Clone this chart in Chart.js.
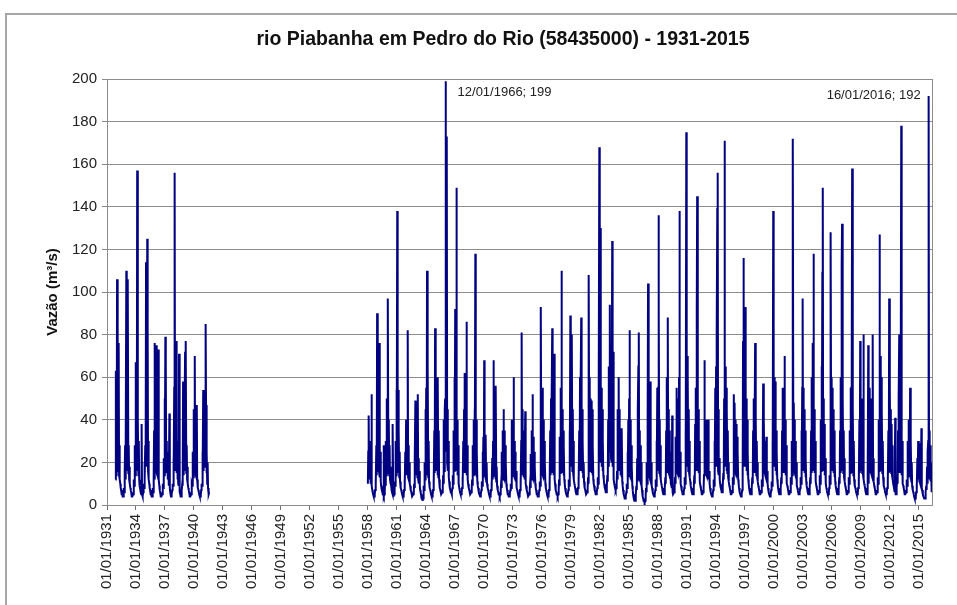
<!DOCTYPE html>
<html>
<head>
<meta charset="utf-8">
<script src="https://cdn.jsdelivr.net/npm/chart.js@4.4.1/dist/chart.umd.min.js"></script>
<style>
  html, body { margin: 0; padding: 0; background: #fff; }
  #wrap { position: relative; width: 957px; height: 605px; overflow: hidden; }
  #frame { position: absolute; left: 5px; top: 13px; right: -4px; bottom: -4px; border-top: 2px solid #a6a6a6; border-left: 2px solid #a6a6a6; }
  canvas { position: absolute; left: 0; top: 0; }
</style>
</head>
<body>
<div id="wrap"><div id="frame"></div><canvas id="chart" width="957" height="605"></canvas></div>
<script>
//  Daily flow, kept as two readings a month (1st and 16th), in m³/s.
//  Each row is one year; the first row of a block may start later in the year.
const tickYears = [1931, 1934, 1937, 1940, 1943, 1946, 1949, 1952, 1955, 1958, 1961, 1964, 1967, 1970,
	1973, 1976, 1979, 1982, 1985, 1988, 1991, 1994, 1997, 2000, 2003, 2006, 2009, 2012, 2015]

const flow1931_1941 = [
	[12, 63, 14],
	[20, 106, 18, 52, 16, 76, 14, 28, 12, 10, 8, 7, 6, 5, 5, 4, 4, 5, 8, 6, 16, 28, 12, 30],
	[110, 20, 74, 16, 106, 15, 28, 12, 18, 10, 8, 7, 6, 5, 4, 4, 4, 5, 7, 12, 9, 28, 14, 67],
	[18, 45, 20, 157, 16, 40, 14, 30, 12, 9, 8, 7, 6, 5, 38, 5, 4, 4, 6, 10, 8, 20, 12, 28],
	[22, 114, 18, 40, 125, 82, 16, 30, 12, 10, 8, 7, 6, 5, 5, 4, 4, 5, 8, 6, 14, 35, 12, 76],
	[18, 60, 16, 75, 15, 28, 20, 35, 73, 12, 9, 7, 6, 5, 4, 4, 4, 5, 7, 10, 8, 22, 14, 50],
	[16, 79, 66, 18, 30, 15, 25, 12, 20, 10, 9, 43, 8, 6, 5, 4, 4, 5, 7, 10, 9, 22, 15, 55],
	[156, 20, 45, 16, 77, 15, 30, 12, 18, 10, 9, 71, 8, 6, 5, 4, 4, 5, 7, 10, 9, 58, 14, 40],
	[18, 50, 72, 16, 77, 15, 28, 12, 18, 10, 8, 7, 6, 5, 4, 4, 4, 5, 7, 10, 9, 25, 13, 45],
	[16, 40, 70, 15, 35, 14, 28, 47, 12, 10, 8, 7, 6, 5, 4, 4, 4, 5, 7, 10, 9, 25, 14, 54],
	[16, 47, 20, 45, 18, 85, 47, 15, 25, 10, 20, 8, 6, 5, 6]
]

const flow1958_1969 = [
	[10, 25, 42, 14, 30, 12, 22, 10, 18, 52, 9, 7, 6, 5, 5, 4, 4, 5, 7, 12, 9, 28, 14, 90],
	[18, 60, 16, 40, 15, 76, 13, 25, 11, 9, 8, 7, 6, 5, 5, 28, 4, 5, 7, 12, 9, 30, 14, 50],
	[16, 45, 97, 15, 40, 14, 28, 12, 18, 10, 9, 7, 6, 5, 38, 5, 4, 5, 7, 11, 9, 30, 14, 54],
	[16, 138, 18, 54, 15, 35, 13, 25, 11, 9, 8, 7, 6, 5, 5, 4, 4, 5, 7, 12, 9, 25, 14, 40],
	[14, 35, 15, 82, 13, 28, 12, 20, 10, 9, 8, 7, 6, 5, 4, 4, 4, 5, 6, 10, 8, 22, 49, 18],
	[30, 14, 28, 13, 52, 12, 22, 10, 16, 9, 7, 6, 5, 4, 3, 3, 2, 3, 5, 9, 7, 20, 12, 45],
	[14, 55, 15, 110, 14, 66, 13, 30, 11, 9, 8, 7, 6, 5, 5, 4, 4, 5, 7, 12, 9, 35, 15, 83],
	[40, 18, 45, 16, 50, 14, 60, 13, 35, 12, 10, 8, 7, 6, 5, 5, 5, 6, 8, 14, 10, 40, 16, 45],
	[50, 199, 25, 60, 173, 20, 45, 16, 30, 13, 11, 9, 8, 7, 6, 6, 5, 6, 8, 14, 10, 35, 16, 60],
	[18, 92, 20, 45, 149, 16, 40, 14, 28, 12, 10, 8, 7, 6, 5, 5, 5, 6, 8, 13, 10, 30, 15, 45],
	[62, 16, 40, 15, 35, 86, 14, 28, 12, 10, 9, 8, 7, 6, 5, 5, 5, 6, 8, 12, 9, 28, 14, 40],
	[15, 45, 16, 118, 14, 40, 13, 25, 11, 9, 8, 7, 6, 5, 5, 4, 4, 5, 7, 11, 9, 25, 13, 32]
]

const flow1970_1979 = [
	[14, 68, 13, 28, 12, 33, 11, 20, 10, 9, 8, 7, 6, 5, 5, 4, 4, 5, 7, 10, 8, 22, 12, 30],
	[68, 14, 30, 13, 28, 12, 56, 11, 18, 9, 8, 7, 6, 5, 5, 4, 4, 5, 7, 10, 8, 25, 12, 35],
	[14, 45, 13, 35, 12, 28, 11, 20, 10, 8, 7, 6, 5, 5, 4, 4, 4, 5, 7, 10, 8, 40, 12, 38],
	[14, 40, 60, 13, 30, 12, 25, 11, 16, 9, 8, 7, 6, 5, 5, 4, 4, 5, 7, 12, 9, 30, 81, 16],
	[45, 14, 35, 13, 30, 12, 20, 44, 10, 9, 8, 7, 6, 5, 4, 4, 4, 5, 7, 10, 8, 24, 12, 35],
	[14, 52, 13, 32, 12, 25, 11, 18, 10, 8, 7, 6, 5, 5, 4, 4, 4, 5, 7, 11, 9, 30, 93, 18],
	[50, 15, 55, 14, 40, 13, 30, 12, 20, 10, 8, 7, 6, 5, 5, 4, 4, 5, 7, 11, 9, 35, 14, 50],
	[16, 50, 83, 15, 40, 14, 30, 71, 12, 10, 8, 7, 6, 5, 5, 4, 4, 5, 7, 12, 9, 32, 15, 55],
	[16, 110, 18, 45, 15, 35, 14, 28, 12, 10, 8, 7, 6, 5, 5, 4, 4, 5, 7, 12, 9, 35, 16, 89],
	[20, 55, 18, 80, 16, 45, 15, 30, 12, 10, 9, 8, 7, 6, 5, 5, 5, 6, 8, 13, 10, 35, 16, 60]
]

const flow1980_1989 = [
	[18, 55, 88, 16, 45, 15, 30, 13, 20, 11, 9, 8, 7, 6, 5, 5, 5, 6, 8, 13, 10, 108, 16, 60],
	[18, 50, 16, 49, 15, 45, 14, 28, 12, 10, 9, 8, 7, 6, 5, 5, 5, 6, 8, 13, 10, 35, 60, 168],
	[60, 40, 130, 20, 55, 18, 45, 16, 30, 14, 12, 10, 9, 8, 7, 6, 6, 7, 9, 14, 11, 40, 18, 65],
	[50, 94, 25, 60, 22, 55, 20, 124, 18, 72, 15, 12, 10, 9, 8, 7, 7, 8, 10, 16, 12, 45, 20, 60],
	[18, 45, 16, 35, 14, 30, 13, 36, 11, 9, 7, 6, 5, 4, 3, 3, 3, 4, 6, 10, 8, 25, 12, 40],
	[14, 50, 82, 13, 40, 12, 28, 11, 18, 9, 7, 5, 4, 3, 2, 2, 2, 3, 5, 9, 7, 22, 11, 45],
	[65, 81, 13, 35, 12, 28, 11, 20, 9, 7, 5, 4, 3, 2, 2, 1, 1, 2, 4, 8, 6, 20, 10, 40],
	[104, 14, 59, 13, 40, 12, 58, 11, 20, 9, 8, 7, 6, 5, 5, 4, 4, 5, 7, 12, 9, 30, 14, 55],
	[16, 55, 136, 90, 15, 40, 14, 28, 12, 10, 9, 8, 7, 6, 5, 5, 5, 6, 8, 13, 10, 35, 15, 60],
	[18, 88, 16, 45, 15, 35, 14, 25, 12, 10, 9, 8, 42, 6, 5, 5, 5, 6, 8, 13, 10, 32, 15, 55]
]

const flow1990_1999 = [
	[16, 50, 15, 45, 14, 60, 138, 13, 25, 10, 9, 8, 7, 6, 5, 5, 5, 6, 8, 13, 10, 35, 16, 175],
	[20, 70, 18, 60, 16, 45, 15, 30, 13, 11, 9, 8, 7, 6, 5, 5, 5, 6, 8, 14, 10, 38, 16, 55],
	[18, 90, 145, 128, 16, 45, 15, 30, 13, 11, 9, 8, 7, 6, 5, 5, 5, 6, 8, 14, 68, 30, 15, 40],
	[15, 40, 14, 35, 13, 28, 40, 12, 16, 10, 8, 7, 6, 5, 5, 4, 4, 5, 7, 12, 9, 30, 14, 55],
	[20, 65, 18, 80, 139, 156, 16, 45, 14, 22, 12, 10, 9, 8, 7, 6, 6, 7, 9, 15, 12, 50, 171, 30],
	[65, 18, 55, 16, 45, 15, 35, 13, 20, 11, 9, 8, 7, 6, 5, 5, 5, 6, 8, 13, 10, 52, 15, 48],
	[16, 40, 15, 38, 14, 32, 13, 25, 12, 10, 8, 7, 6, 5, 5, 4, 4, 5, 7, 12, 77, 116, 18, 60],
	[20, 60, 93, 18, 50, 16, 40, 14, 25, 12, 10, 8, 7, 6, 5, 5, 5, 6, 8, 13, 10, 35, 15, 50],
	[16, 45, 76, 15, 40, 14, 30, 13, 20, 11, 9, 8, 7, 6, 5, 5, 5, 6, 8, 12, 9, 30, 57, 18],
	[40, 15, 30, 14, 25, 13, 32, 12, 16, 10, 8, 7, 6, 5, 5, 4, 4, 5, 7, 11, 9, 30, 14, 138]
]

const flow2000_2009 = [
	[25, 60, 18, 50, 58, 16, 35, 14, 25, 12, 10, 8, 7, 6, 5, 5, 5, 6, 8, 13, 10, 35, 15, 55],
	[16, 45, 55, 70, 15, 40, 14, 28, 12, 10, 9, 8, 7, 6, 5, 5, 5, 6, 8, 13, 10, 30, 14, 60],
	[172, 18, 48, 16, 40, 15, 30, 13, 20, 11, 9, 8, 7, 6, 5, 5, 5, 6, 8, 13, 10, 35, 15, 55],
	[97, 18, 55, 16, 45, 15, 35, 13, 22, 11, 9, 8, 7, 6, 5, 5, 5, 6, 8, 13, 10, 35, 15, 60],
	[18, 76, 55, 118, 16, 45, 15, 30, 13, 11, 9, 8, 7, 6, 5, 5, 5, 6, 8, 14, 10, 40, 16, 65],
	[20, 109, 149, 18, 50, 16, 38, 14, 22, 12, 10, 8, 7, 6, 5, 5, 5, 6, 8, 14, 10, 40, 128, 20],
	[60, 18, 55, 16, 45, 15, 35, 13, 22, 11, 9, 8, 7, 6, 5, 5, 5, 6, 8, 13, 10, 35, 15, 60],
	[18, 113, 132, 16, 50, 15, 35, 13, 22, 11, 9, 8, 7, 6, 5, 5, 5, 6, 8, 13, 10, 35, 15, 55],
	[16, 55, 70, 158, 15, 45, 14, 30, 12, 10, 9, 8, 7, 6, 5, 5, 5, 6, 8, 13, 10, 40, 15, 77],
	[18, 50, 16, 45, 15, 40, 14, 80, 12, 10, 9, 8, 7, 6, 5, 5, 5, 6, 8, 75, 10, 35, 15, 55]
]

const flow2010_2016 = [
	[16, 50, 15, 45, 14, 40, 80, 13, 22, 11, 9, 8, 7, 6, 5, 5, 5, 6, 8, 13, 10, 40, 16, 127],
	[20, 70, 18, 60, 16, 45, 15, 30, 13, 11, 9, 8, 7, 6, 5, 5, 5, 6, 8, 13, 10, 35, 15, 97],
	[18, 55, 16, 45, 15, 38, 14, 28, 12, 10, 9, 8, 7, 6, 41, 5, 5, 6, 8, 13, 10, 35, 15, 50],
	[80, 16, 50, 15, 45, 178, 14, 30, 12, 10, 9, 8, 7, 6, 5, 5, 5, 6, 8, 12, 9, 30, 14, 40],
	[14, 40, 13, 55, 12, 30, 11, 20, 9, 8, 7, 6, 5, 4, 4, 3, 3, 4, 6, 10, 8, 22, 12, 30],
	[12, 25, 11, 29, 10, 22, 9, 36, 8, 7, 6, 5, 4, 4, 3, 3, 3, 4, 6, 9, 7, 18, 10, 25],
	[30, 192, 14, 35, 12, 28, 11, 20, 9, 6]
]

//  [first year, first half-month index, rows]
const blocks = [
	[1931, 21, flow1931_1941],
	[1958, 0, flow1958_1969],
	[1970, 0, flow1970_1979],
	[1980, 0, flow1980_1989],
	[1990, 0, flow1990_1999],
	[2000, 0, flow2000_2009],
	[2010, 0, flow2010_2016]
]

const noteValues = [199, 192]
const noteTexts = [`12/01/1966; 199`, `16/01/2016; 192`]

const FONT = `"Liberation Sans", Arial, sans-serif`

function buildSeries() {
	const points = []
	blocks.forEach(([year0, first, rows], b) => {
		rows.forEach((row, r) => {
			row.forEach((v, k) => {
				const half = (r === 0 ? first : 0) + k
				points.push({ x: year0 + r + half / 24, y: v })
			})
		})
		//  no readings between 1941 and 1958
		if (b === 0) points.push({ x: 1950, y: null })
	})
	return points
}

//  grey box round the plot area
const plotBox = {
	id: `plotBox`,
	beforeDatasetsDraw(chart) {
		const { ctx, chartArea: a } = chart
		ctx.save()
		ctx.strokeStyle = `#8c8c8c`
		ctx.lineWidth = 1
		ctx.strokeRect(a.left + 0.5, a.top + 0.5, a.right - a.left, a.bottom - a.top)
		ctx.restore()
	}
}

//  title and the two peak labels
const texts = {
	id: `texts`,
	afterDraw(chart) {
		const { ctx } = chart
		ctx.save()
		ctx.fillStyle = `#111`
		ctx.font = `bold 19.5px ${FONT}`
		ctx.textAlign = `center`
		ctx.textBaseline = `middle`
		ctx.fillText(`rio Piabanha em Pedro do Rio (58435000) - 1931-2015`, 503, 40)

		const meta = chart.getDatasetMeta(0)
		const data = chart.data.datasets[0].data
		ctx.font = `13px ${FONT}`
		ctx.fillStyle = `#222`
		noteValues.forEach((val, n) => {
			const el = meta.data[data.findIndex(p => p.y === val)]
			if (n === 0) {
				ctx.textAlign = `left`
				ctx.fillText(noteTexts[n], el.x + 12, el.y + 11)
			} else {
				ctx.textAlign = `right`
				ctx.fillText(noteTexts[n], el.x - 8, el.y - 1)
			}
		})
		ctx.restore()
	}
}

new Chart(document.getElementById(`chart`), {
	type: `line`,
	data: {
		datasets: [{
			data: buildSeries(),
			borderColor: `#000080`,
			borderWidth: 2,
			borderJoinStyle: `miter`,
			pointRadius: 0,
			tension: 0,
			spanGaps: false
		}]
	},
	options: {
		responsive: false,
		devicePixelRatio: 1,
		animation: false,
		normalized: true,
		layout: { padding: { top: 79, right: 25, bottom: 0, left: 0 } },
		plugins: { legend: { display: false }, tooltip: { enabled: false } },
		scales: {
			x: {
				type: `linear`,
				min: 1931,
				max: 2016.39,
				afterBuildTicks: axis => { axis.ticks = tickYears.map(v => ({ value: v })) },
				afterFit: axis => { axis.height = 100 },
				grid: { drawOnChartArea: false, tickLength: 5, color: `#707070` },
				border: { color: `#707070` },
				ticks: {
					autoSkip: false,
					minRotation: 90,
					maxRotation: 90,
					padding: 4,
					color: `#222`,
					font: { family: FONT, size: 15 },
					callback: v => `01/01/${v}`
				}
			},
			y: {
				min: 0,
				max: 200,
				afterFit: axis => { axis.width = 107 },
				grid: { color: `#8c8c8c`, tickLength: 5 },
				border: { color: `#707070` },
				ticks: { stepSize: 20, padding: 5, color: `#222`, font: { family: FONT, size: 15 } },
				title: {
					display: true,
					text: `Vazão (m³/s)`,
					color: `#111`,
					font: { family: FONT, size: 15, weight: `bold` },
					padding: { top: 44, bottom: 0 }
				}
			}
		}
	},
	plugins: [plotBox, texts]
})
</script>
</body>
</html>
